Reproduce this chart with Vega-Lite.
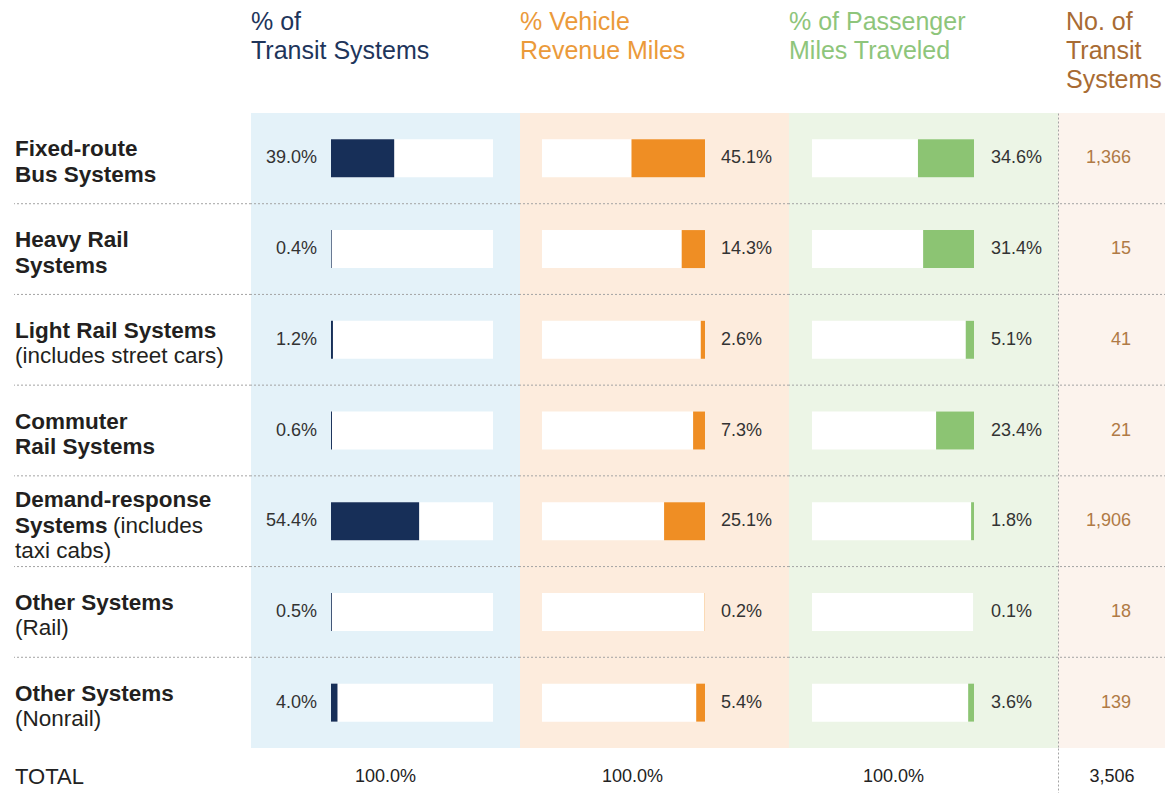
{
  "$schema": "https://vega.github.io/schema/vega-lite/v6.json",
  "padding": {"left": 13, "top": 10, "right": 0, "bottom": 0},
  "background": "white",
  "spacing": 0,
  "datasets": {
    "rows": [
      {"system": "Fixed-route Bus Systems", "l1": "Fixed-route", "l2b": "Bus Systems", "sys": 0.390, "vrm": 0.451, "pmt": 0.346, "n": 1366},
      {"system": "Heavy Rail Systems", "l1": "Heavy Rail", "l2b": "Systems", "sys": 0.004, "vrm": 0.143, "pmt": 0.314, "n": 15},
      {"system": "Light Rail Systems (includes street cars)", "l1": "Light Rail Systems", "l2n": "(includes street cars)", "sys": 0.012, "vrm": 0.026, "pmt": 0.051, "n": 41},
      {"system": "Commuter Rail Systems", "l1": "Commuter", "l2b": "Rail Systems", "sys": 0.006, "vrm": 0.073, "pmt": 0.234, "n": 21},
      {"system": "Demand-response Systems (includes taxi cabs)", "l1": "Demand-response", "l2b": "Systems", "l2n": "(includes", "l3": "taxi cabs)", "sys": 0.544, "vrm": 0.251, "pmt": 0.018, "n": 1906},
      {"system": "Other Systems (Rail)", "l1": "Other Systems", "l2n": "(Rail)", "sys": 0.005, "vrm": 0.002, "pmt": 0.001, "n": 18},
      {"system": "Other Systems (Nonrail)", "l1": "Other Systems", "l2n": "(Nonrail)", "sys": 0.040, "vrm": 0.054, "pmt": 0.036, "n": 139}
    ],
    "totals": [{"row": "TOTAL", "sys": 1, "vrm": 1, "pmt": 1, "n": 3506}]
  },
  "vconcat": [
    {
      "spacing": 0,
      "bounds": "flush",
      "hconcat": [
        {
          "width": 237, "height": 635,
          "data": {"name": "rows"},
          "encoding": {
            "y": {"field": "system", "type": "nominal", "sort": null, "scale": {"paddingInner": 0, "paddingOuter": 0}, "axis": null}
          },
          "layer": [
            {"transform": [{"filter": "datum.system != 'Other Systems (Nonrail)'"}],
             "mark": {"type": "rule", "strokeDash": [2, 2], "color": "#a4a4a4", "strokeWidth": 1},
             "encoding": {"y": {"field": "system", "type": "nominal", "sort": null, "bandPosition": 1}}},
            {"transform": [{"filter": "!isValid(datum.l3)"}],
             "mark": {"type": "text", "x": 1, "dy": -9, "align": "left", "baseline": "middle", "font": "Liberation Sans", "fontSize": 22.5, "fontWeight": "bold", "color": "#231f20"},
             "encoding": {"text": {"field": "l1", "type": "nominal"}}},
            {"transform": [{"filter": "!isValid(datum.l3) && isValid(datum.l2b)"}],
             "mark": {"type": "text", "x": 1, "dy": 16.5, "align": "left", "baseline": "middle", "font": "Liberation Sans", "fontSize": 22.5, "fontWeight": "bold", "color": "#231f20"},
             "encoding": {"text": {"field": "l2b", "type": "nominal"}}},
            {"transform": [{"filter": "!isValid(datum.l3) && isValid(datum.l2n)"}],
             "mark": {"type": "text", "x": 1, "dy": 16.5, "align": "left", "baseline": "middle", "font": "Liberation Sans", "fontSize": 22.5, "fontWeight": "normal", "color": "#231f20"},
             "encoding": {"text": {"field": "l2n", "type": "nominal"}}},
            {"transform": [{"filter": "isValid(datum.l3)"}],
             "mark": {"type": "text", "x": 1, "dy": -21, "align": "left", "baseline": "middle", "font": "Liberation Sans", "fontSize": 22.5, "fontWeight": "bold", "color": "#231f20"},
             "encoding": {"text": {"field": "l1", "type": "nominal"}}},
            {"transform": [{"filter": "isValid(datum.l3)"}],
             "mark": {"type": "text", "x": 1, "dy": 4.5, "align": "left", "baseline": "middle", "font": "Liberation Sans", "fontSize": 22.5, "fontWeight": "bold", "color": "#231f20"},
             "encoding": {"text": {"field": "l2b", "type": "nominal"}}},
            {"transform": [{"filter": "isValid(datum.l3)"}],
             "mark": {"type": "text", "x": 1, "dx": 98, "dy": 4.5, "align": "left", "baseline": "middle", "font": "Liberation Sans", "fontSize": 22.5, "fontWeight": "normal", "color": "#231f20"},
             "encoding": {"text": {"field": "l2n", "type": "nominal"}}},
            {"transform": [{"filter": "isValid(datum.l3)"}],
             "mark": {"type": "text", "x": 1, "dy": 30, "align": "left", "baseline": "middle", "font": "Liberation Sans", "fontSize": 22.5, "fontWeight": "normal", "color": "#231f20"},
             "encoding": {"text": {"field": "l3", "type": "nominal"}}}
          ]
        },
        {
          "width": 269, "height": 635,
          "data": {"name": "rows"},
          "view": {"fill": "#e4f2f9", "stroke": null},
          "title": {"text": ["% of", "Transit Systems"], "color": "#1e355b", "offset": 49},
          "encoding": {
            "y": {"field": "system", "type": "nominal", "sort": null, "scale": {"paddingInner": 0, "paddingOuter": 0}, "axis": null}
          },
          "layer": [
            {"transform": [{"filter": "datum.system != 'Other Systems (Nonrail)'"}],
             "mark": {"type": "rule", "strokeDash": [2, 2], "color": "#a4a4a4", "strokeWidth": 1},
             "encoding": {"y": {"field": "system", "type": "nominal", "sort": null, "bandPosition": 1}}},
            {"mark": {"type": "bar", "color": "#ffffff"},
             "encoding": {"x": {"datum": 1, "type": "quantitative", "scale": {"domain": [0, 1], "range": [80, 242]}, "axis": null}, "size": {"value": 38}}},
            {"mark": {"type": "bar", "color": "#172f58"},
             "encoding": {"x": {"field": "sys", "type": "quantitative"}, "size": {"value": 38}}},
            {"mark": {"type": "text", "align": "right", "baseline": "middle", "dx": -14, "font": "Liberation Sans", "fontSize": 18, "color": "#333333"},
             "encoding": {"x": {"datum": 0, "type": "quantitative"}, "text": {"field": "sys", "type": "quantitative", "format": ".1%"}}}
          ]
        },
        {
          "width": 269, "height": 635,
          "data": {"name": "rows"},
          "view": {"fill": "#fdecdd", "stroke": null},
          "title": {"text": ["% Vehicle", "Revenue Miles"], "color": "#eb9a3a", "offset": 49},
          "encoding": {
            "y": {"field": "system", "type": "nominal", "sort": null, "scale": {"paddingInner": 0, "paddingOuter": 0}, "axis": null}
          },
          "layer": [
            {"transform": [{"filter": "datum.system != 'Other Systems (Nonrail)'"}],
             "mark": {"type": "rule", "strokeDash": [2, 2], "color": "#a4a4a4", "strokeWidth": 1},
             "encoding": {"y": {"field": "system", "type": "nominal", "sort": null, "bandPosition": 1}}},
            {"mark": {"type": "bar", "color": "#ffffff"},
             "encoding": {"x": {"datum": 1, "type": "quantitative", "scale": {"domain": [0, 1], "range": [185, 22]}, "axis": null}, "size": {"value": 38}}},
            {"mark": {"type": "bar", "color": "#ef8e24"},
             "encoding": {"x": {"field": "vrm", "type": "quantitative"}, "size": {"value": 38}}},
            {"mark": {"type": "text", "align": "left", "baseline": "middle", "dx": 16, "font": "Liberation Sans", "fontSize": 18, "color": "#333333"},
             "encoding": {"x": {"datum": 0, "type": "quantitative"}, "text": {"field": "vrm", "type": "quantitative", "format": ".1%"}}}
          ]
        },
        {
          "width": 269, "height": 635,
          "data": {"name": "rows"},
          "view": {"fill": "#ecf5e6", "stroke": null},
          "title": {"text": ["% of Passenger", "Miles Traveled"], "color": "#8ec57b", "offset": 49},
          "encoding": {
            "y": {"field": "system", "type": "nominal", "sort": null, "scale": {"paddingInner": 0, "paddingOuter": 0}, "axis": null}
          },
          "layer": [
            {"transform": [{"filter": "datum.system != 'Other Systems (Nonrail)'"}],
             "mark": {"type": "rule", "strokeDash": [2, 2], "color": "#a4a4a4", "strokeWidth": 1},
             "encoding": {"y": {"field": "system", "type": "nominal", "sort": null, "bandPosition": 1}}},
            {"mark": {"type": "bar", "color": "#ffffff"},
             "encoding": {"x": {"datum": 1, "type": "quantitative", "scale": {"domain": [0, 1], "range": [185, 23]}, "axis": null}, "size": {"value": 38}}},
            {"mark": {"type": "bar", "color": "#8cc473"},
             "encoding": {"x": {"field": "pmt", "type": "quantitative"}, "size": {"value": 38}}},
            {"mark": {"type": "text", "align": "left", "baseline": "middle", "dx": 17, "font": "Liberation Sans", "fontSize": 18, "color": "#333333"},
             "encoding": {"x": {"datum": 0, "type": "quantitative"}, "text": {"field": "pmt", "type": "quantitative", "format": ".1%"}}}
          ]
        },
        {
          "width": 108, "height": 635,
          "data": {"name": "rows"},
          "view": {"fill": "#fcf3ed", "stroke": null},
          "title": {"text": ["No. of", "Transit", "Systems"], "color": "#a86b33", "dx": 8},
          "encoding": {
            "y": {"field": "system", "type": "nominal", "sort": null, "scale": {"paddingInner": 0, "paddingOuter": 0},
              "axis": {"title": null, "labels": false, "ticks": false, "domain": true, "domainDash": [2, 2], "domainColor": "#a4a4a4", "grid": false}}
          },
          "layer": [
            {"transform": [{"filter": "datum.system != 'Other Systems (Nonrail)'"}],
             "mark": {"type": "rule", "strokeDash": [2, 2], "color": "#a4a4a4", "strokeWidth": 1},
             "encoding": {"y": {"field": "system", "type": "nominal", "sort": null, "bandPosition": 1}}},
            {"mark": {"type": "text", "align": "right", "baseline": "middle", "dx": 19, "font": "Liberation Sans", "fontSize": 18, "color": "#b07a45"},
             "encoding": {"text": {"field": "n", "type": "quantitative", "format": ","}}}
          ]
        }
      ]
    },
    {
      "spacing": 0,
      "bounds": "flush",
      "hconcat": [
        {
          "width": 237, "height": 45,
          "data": {"name": "totals"},
          "mark": {"type": "text", "x": 1, "align": "left", "baseline": "middle", "dy": 6, "font": "Liberation Sans", "fontSize": 22, "color": "#222222"},
          "encoding": {"y": {"field": "row", "type": "nominal", "axis": null}, "text": {"field": "row", "type": "nominal"}}
        },
        {
          "width": 269, "height": 45,
          "data": {"name": "totals"},
          "mark": {"type": "text", "align": "center", "baseline": "middle", "dy": 6, "font": "Liberation Sans", "fontSize": 18, "color": "#222222"},
          "encoding": {"y": {"field": "row", "type": "nominal", "axis": null}, "text": {"field": "sys", "type": "quantitative", "format": ".1%"}}
        },
        {
          "width": 269, "height": 45,
          "data": {"name": "totals"},
          "mark": {"type": "text", "align": "center", "baseline": "middle", "dy": 6, "dx": -22, "font": "Liberation Sans", "fontSize": 18, "color": "#222222"},
          "encoding": {"y": {"field": "row", "type": "nominal", "axis": null}, "text": {"field": "vrm", "type": "quantitative", "format": ".1%"}}
        },
        {
          "width": 269, "height": 45,
          "data": {"name": "totals"},
          "mark": {"type": "text", "align": "center", "baseline": "middle", "dy": 6, "dx": -30, "font": "Liberation Sans", "fontSize": 18, "color": "#222222"},
          "encoding": {"y": {"field": "row", "type": "nominal", "axis": null}, "text": {"field": "pmt", "type": "quantitative", "format": ".1%"}}
        },
        {
          "width": 108, "height": 45,
          "data": {"name": "totals"},
          "mark": {"type": "text", "align": "center", "baseline": "middle", "dy": 6, "font": "Liberation Sans", "fontSize": 18, "color": "#222222"},
          "encoding": {"y": {"field": "row", "type": "nominal", "scale": {"paddingInner": 0, "paddingOuter": 0},
            "axis": {"title": null, "labels": false, "ticks": false, "domain": true, "domainDash": [2, 2], "domainColor": "#a4a4a4", "grid": false}},
            "text": {"field": "n", "type": "quantitative", "format": ","}}
        }
      ]
    }
  ],
  "config": {
    "view": {"stroke": null},
    "title": {"anchor": "start", "frame": "group", "font": "Liberation Sans", "fontSize": 25, "fontWeight": "normal", "lineHeight": 29, "offset": 20}
  }
}
